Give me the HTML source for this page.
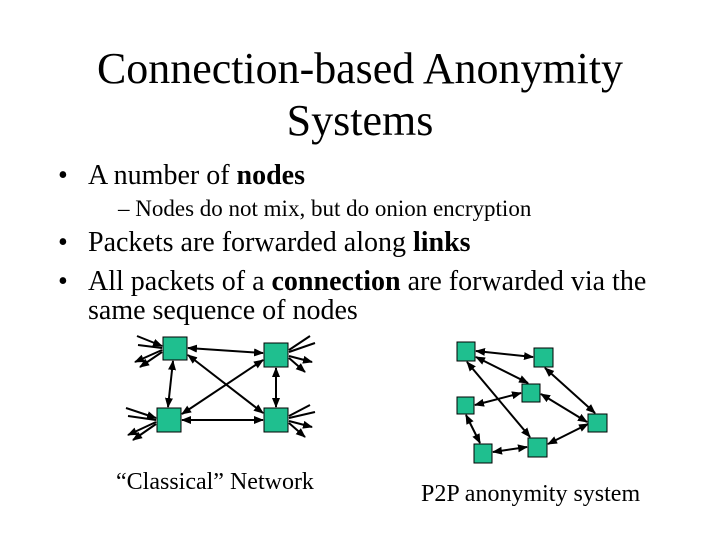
<!DOCTYPE html>
<html><head><meta charset="utf-8"><style>
html,body{margin:0;padding:0;background:#fff}
svg{display:block}
text{font-family:"Liberation Serif",serif;fill:#000}
</style></head><body>
<svg width="720" height="540" viewBox="0 0 720 540">
<defs>
<marker id="a" viewBox="0 0 10 10" refX="9" refY="5" markerWidth="5" markerHeight="5" orient="auto-start-reverse"><path d="M0,1 L10,5 L0,9 z" fill="#000"/></marker>
</defs>
<text x="360" y="83" font-size="44" text-anchor="middle" textLength="526" lengthAdjust="spacingAndGlyphs">Connection-based Anonymity</text>
<text x="360" y="135" font-size="44" text-anchor="middle">Systems</text>
<text x="58" y="184" font-size="28">•</text>
<text x="88" y="184" font-size="28">A number of <tspan font-weight="bold">nodes</tspan></text>
<text x="118" y="216" font-size="23">–  Nodes do not mix, but do onion encryption</text>
<text x="58" y="251" font-size="28">•</text>
<text x="88" y="251" font-size="28">Packets are forwarded along <tspan font-weight="bold">links</tspan></text>
<text x="58" y="290" font-size="28">•</text>
<text x="88" y="290" font-size="28">All packets of a <tspan font-weight="bold">connection</tspan> are forwarded via the</text>
<text x="88" y="319" font-size="28">same sequence of nodes</text>

<g stroke="#000" stroke-width="2" fill="none">
<line x1="188" y1="348" x2="263" y2="353" marker-start="url(#a)" marker-end="url(#a)"/>
<line x1="173" y1="361" x2="168" y2="407" marker-start="url(#a)" marker-end="url(#a)"/>
<line x1="276" y1="368" x2="276" y2="407" marker-start="url(#a)" marker-end="url(#a)"/>
<line x1="182" y1="420" x2="263" y2="420" marker-start="url(#a)" marker-end="url(#a)"/>
<line x1="188" y1="355" x2="263" y2="413" marker-start="url(#a)" marker-end="url(#a)"/>
<line x1="263" y1="360" x2="182" y2="414" marker-start="url(#a)" marker-end="url(#a)"/>
<line x1="137" y1="336" x2="162" y2="346" marker-end="url(#a)"/>
<line x1="138" y1="345" x2="162" y2="348"/>
<line x1="162" y1="350" x2="135" y2="362" marker-end="url(#a)"/>
<line x1="162" y1="352" x2="140" y2="367" marker-end="url(#a)"/>
<line x1="315" y1="343" x2="289" y2="352"/>
<line x1="310" y1="336" x2="289" y2="350"/>
<line x1="289" y1="356" x2="312" y2="362" marker-end="url(#a)"/>
<line x1="289" y1="358" x2="305" y2="372" marker-end="url(#a)"/>
<line x1="126" y1="408" x2="156" y2="418" marker-end="url(#a)"/>
<line x1="128" y1="416" x2="156" y2="420"/>
<line x1="156" y1="422" x2="128" y2="435" marker-end="url(#a)"/>
<line x1="156" y1="424" x2="133" y2="440" marker-end="url(#a)"/>
<line x1="310" y1="405" x2="289" y2="416"/>
<line x1="315" y1="412" x2="289" y2="418"/>
<line x1="289" y1="421" x2="312" y2="427" marker-end="url(#a)"/>
<line x1="289" y1="423" x2="305" y2="437" marker-end="url(#a)"/>
<line x1="476" y1="351" x2="533" y2="357" marker-start="url(#a)" marker-end="url(#a)"/>
<line x1="476" y1="357" x2="528" y2="383" marker-start="url(#a)" marker-end="url(#a)"/>
<line x1="467" y1="362" x2="530" y2="437" marker-start="url(#a)" marker-end="url(#a)"/>
<line x1="545" y1="368" x2="595" y2="413" marker-start="url(#a)" marker-end="url(#a)"/>
<line x1="521" y1="393" x2="475" y2="405" marker-start="url(#a)" marker-end="url(#a)"/>
<line x1="541" y1="394" x2="587" y2="422" marker-start="url(#a)" marker-end="url(#a)"/>
<line x1="466" y1="415" x2="480" y2="443" marker-start="url(#a)" marker-end="url(#a)"/>
<line x1="493" y1="452" x2="527" y2="447" marker-start="url(#a)" marker-end="url(#a)"/>
<line x1="548" y1="444" x2="588" y2="424" marker-start="url(#a)" marker-end="url(#a)"/>
</g>
<g fill="#1fbf8f" stroke="#000" stroke-width="1">
<rect x="163" y="337" width="24" height="23"/>
<rect x="264" y="343" width="24" height="24"/>
<rect x="157" y="408" width="24" height="24"/>
<rect x="264" y="408" width="24" height="24"/>
<rect x="457" y="342" width="18" height="19"/>
<rect x="534" y="348" width="19" height="19"/>
<rect x="522" y="384" width="18" height="18"/>
<rect x="457" y="397" width="17" height="17"/>
<rect x="588" y="414" width="19" height="18"/>
<rect x="528" y="438" width="19" height="19"/>
<rect x="474" y="444" width="18" height="19"/>
</g>
<text x="116" y="489" font-size="24">“Classical” Network</text>
<text x="421" y="501" font-size="24">P2P anonymity system</text>
</svg>
</body></html>
